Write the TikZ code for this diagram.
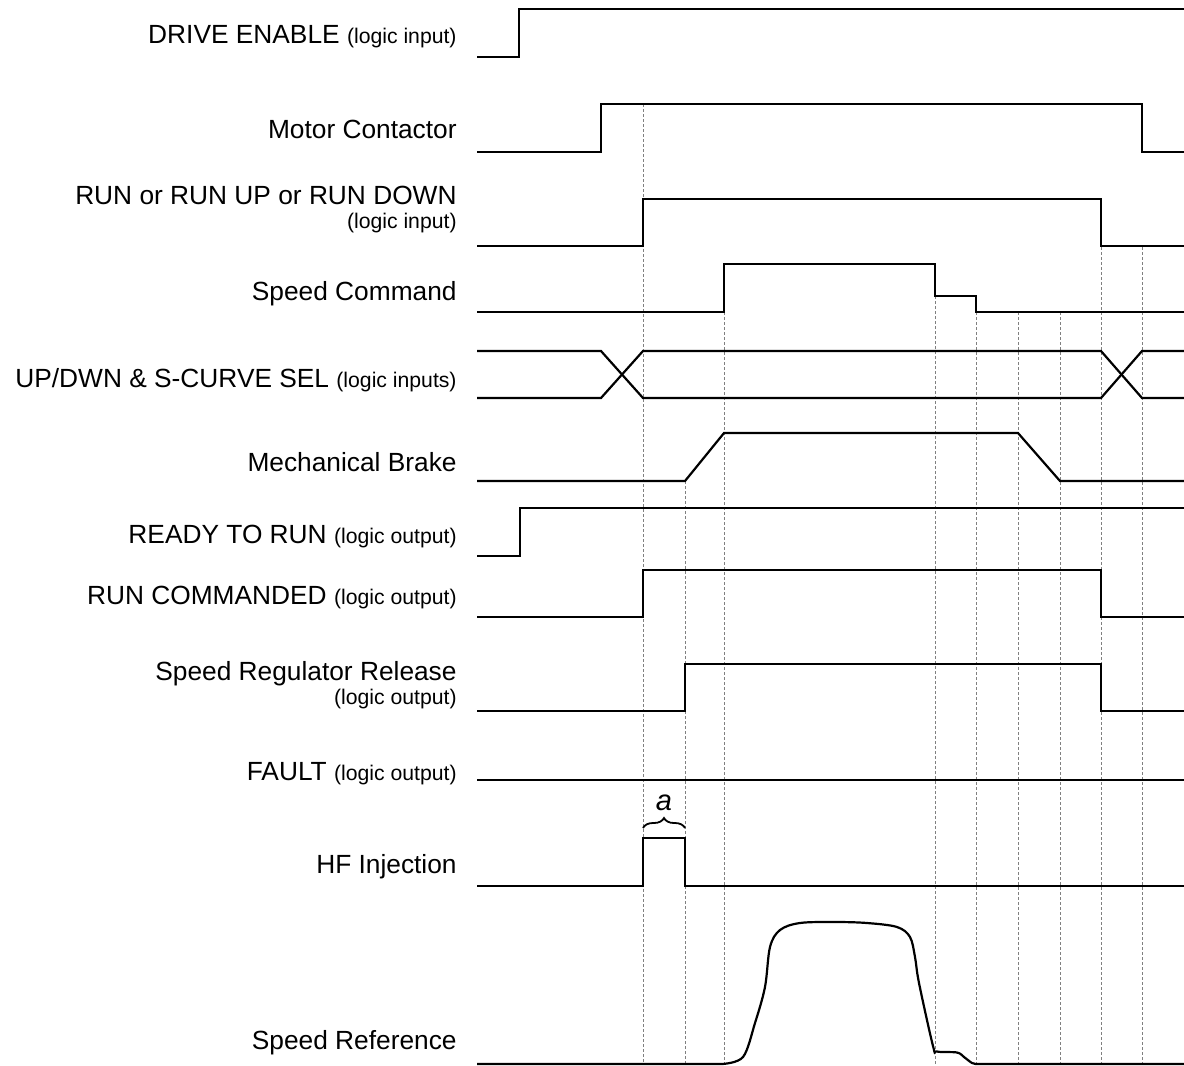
\documentclass[tikz,border=0pt]{standalone}
\usepackage{fontspec}
\setmainfont{Liberation Sans}
\usetikzlibrary{decorations.pathreplacing}
\newcommand{\lgc}[1]{{\fontsize{10.6}{12}\selectfont #1}}

\begin{document}
\begin{tikzpicture}[x=0.5pt, y=-0.5pt,
    every node/.style={font=\fontsize{13.15}{15}\selectfont, inner sep=0pt},
    lbl/.style={anchor=base east},
    sig/.style={line width=1.1pt, line join=miter},
    grid/.style={gray, line width=0.4pt, dash pattern=on 1.5pt off 1pt}
  ]
  \useasboundingbox (0,0) rectangle (1184,1066);

  % guide lines
  \draw[grid] (643,104) -- (643,1064);
  \draw[grid] (685,481) -- (685,1064);
  \draw[grid] (724,312) -- (724,1064);
  \draw[grid] (935,296) -- (935,1064);
  \foreach \x in {976,1018,1060} \draw[grid] (\x,312) -- (\x,1064);
  \foreach \x in {1101,1142} \draw[grid] (\x,247) -- (\x,1064);

  % labels
  \node[lbl] (drv)  at (457,43)  {DRIVE ENABLE \lgc{(logic input)}};
  \node[lbl] (mc)   at (457,138) {Motor Contactor};
  \node[lbl] (run)  at (457,204) {RUN or RUN UP or RUN DOWN};
  \node[lbl] (run2) at (457,228) {\lgc{(logic input)}};
  \node[lbl] (scmd) at (457,300) {Speed Command};
  \node[lbl] (sel)  at (457,387) {UP/DWN \& S-CURVE SEL \lgc{(logic inputs)}};
  \node[lbl] (brk)  at (457,471) {Mechanical Brake};
  \node[lbl] (rdy)  at (457,543) {READY TO RUN \lgc{(logic output)}};
  \node[lbl] (rcmd) at (457,604) {RUN COMMANDED \lgc{(logic output)}};
  \node[lbl] (srr)  at (457,680) {Speed Regulator Release};
  \node[lbl] (srr2) at (457,704) {\lgc{(logic output)}};
  \node[lbl] (flt)  at (457,780) {FAULT \lgc{(logic output)}};
  \node[lbl] (hf)   at (457,873) {HF Injection};
  \node[lbl] (sref) at (457,1049) {Speed Reference};

  % waveforms
  \draw[sig] (477,57) -- (519,57) -- (519,9) -- (1184,9);
  \draw[sig] (477,152) -- (601,152) -- (601,104) -- (1142,104) -- (1142,152) -- (1184,152);
  \draw[sig] (477,246) -- (643,246) -- (643,199) -- (1101,199) -- (1101,246) -- (1184,246);
  \draw[sig] (477,312) -- (724,312) -- (724,264) -- (935,264) -- (935,296) -- (976,296)
    -- (976,312) -- (1184,312);
  \draw[sig] (477,351) -- (601,351) -- (643,398) -- (1101,398) -- (1142,351) -- (1184,351);
  \draw[sig] (477,398) -- (601,398) -- (643,351) -- (1101,351) -- (1142,398) -- (1184,398);
  \draw[sig] (477,481) -- (685,481) -- (724,433) -- (1018,433) -- (1060,481) -- (1184,481);
  \draw[sig] (477,556) -- (520,556) -- (520,508) -- (1184,508);
  \draw[sig] (477,617) -- (643,617) -- (643,570) -- (1101,570) -- (1101,617) -- (1184,617);
  \draw[sig] (477,711) -- (685,711) -- (685,664) -- (1101,664) -- (1101,711) -- (1184,711);
  \draw[sig] (477,780) -- (1184,780);
  \draw[sig] (477,886) -- (643,886) -- (643,838) -- (685,838) -- (685,886) -- (1184,886);
  \draw[sig] (477,1064) -- (722,1064) -- plot[smooth, tension=0.55] coordinates {
      (722,1064) (743,1057) (755,1023) (765,987) (770,947) (780,930) (800,923)
      (835,922) (867,923) (897,927) (910,937) (915,957) (919,983) (933,1046)
      (937,1051.5) (957,1052.5) (964,1057) (972,1063) (977,1064)} -- (1184,1064);

  % pulse width
  \draw[line width=0.9pt, decorate, decoration={brace, amplitude=5pt}] (643,828) -- (685,828);
  \node (wa) at (664,803) {\fontsize{14.5}{15}\selectfont\itshape a};
\end{tikzpicture}
\end{document}
